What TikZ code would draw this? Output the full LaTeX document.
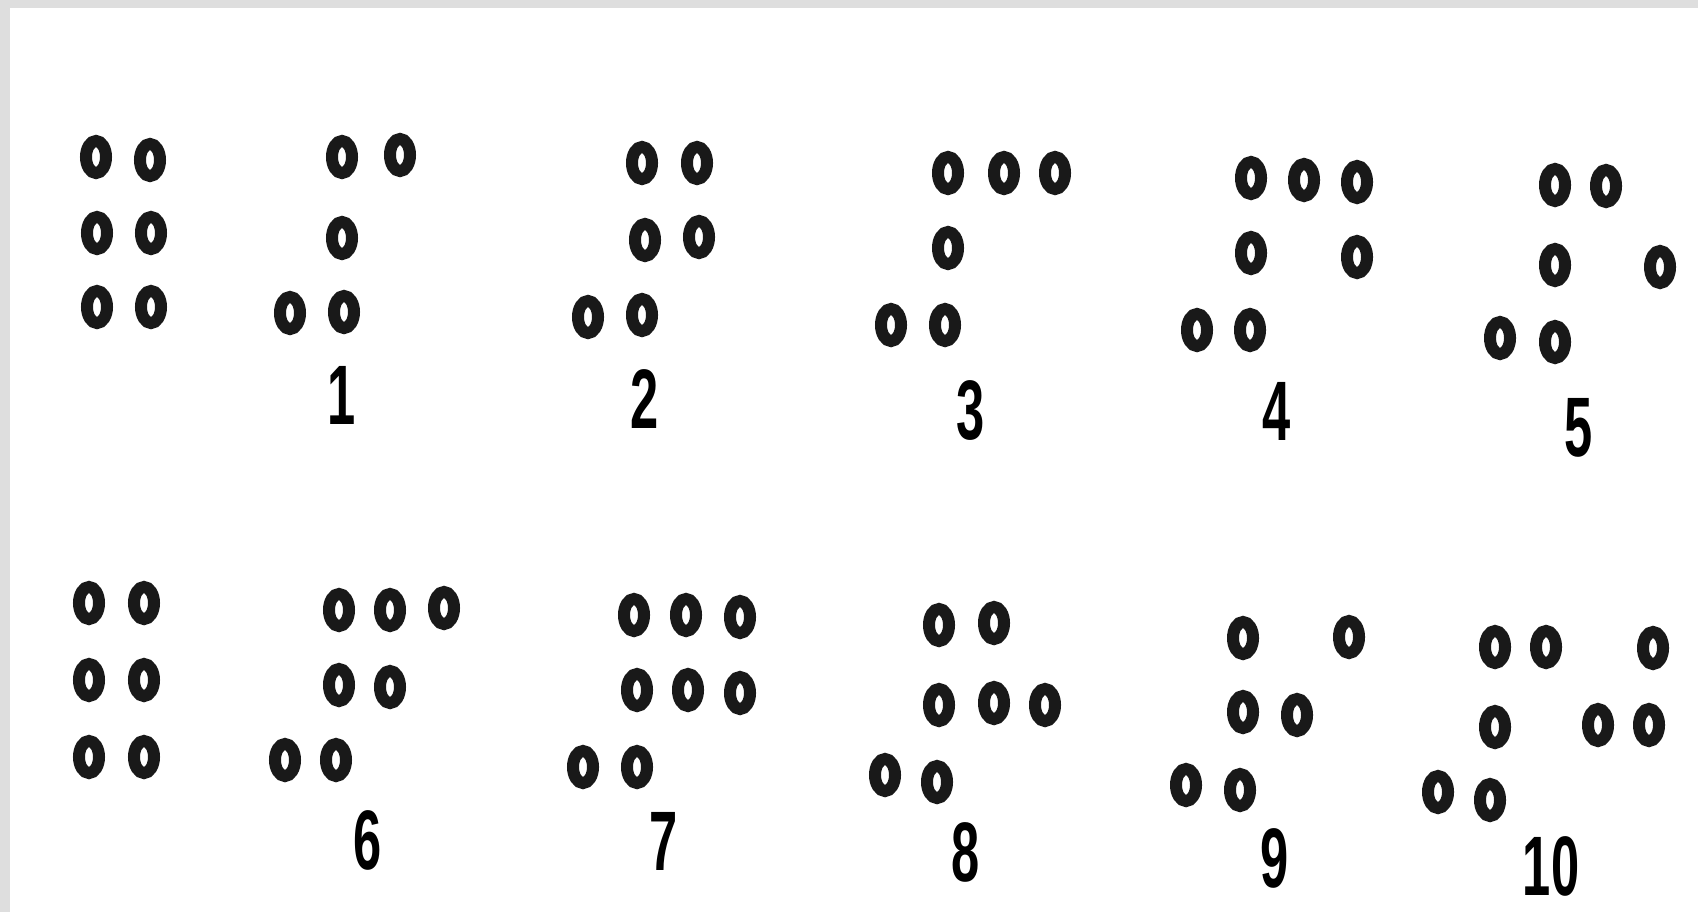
\documentclass[tikz,border=0pt]{standalone}
\usepackage{fontspec}
\newfontfamily\numfont[FakeStretch=0.6]{Liberation Sans}
\usetikzlibrary{shapes.geometric}

\begin{document}
\begin{tikzpicture}[x=0.01cm,y=-0.01cm,
  ring/.style={draw=black!90,line width=0.12cm,ellipse,inner sep=0pt,
    minimum width=0.2cm,minimum height=0.32cm},
  digit/.style={font=\numfont\bfseries\fontsize{24}{24}\selectfont,inner sep=0pt}]
  \useasboundingbox (0,0) rectangle (1698,912);
  % grey frame
  \fill[black!13] (0,0) rectangle (1698,8);
  \fill[black!13] (0,0) rectangle (10,912);

  % upper row
  \foreach \x/\y [count=\i] in {96/157,150/160,97/233,151/233,97/307,151/307}
    \node[ring] (a-\i) at (\x,\y) {};
  \foreach \x/\y [count=\i] in {342/157,400/155,342/238,290/313,344/312}
    \node[ring] (one-\i) at (\x,\y) {};
  \foreach \x/\y [count=\i] in {642/163,697/163,645/240,699/237,588/317,642/315}
    \node[ring] (two-\i) at (\x,\y) {};
  \foreach \x/\y [count=\i] in {948/173,1004/173,1055/173,948/248,891/325,945/325}
    \node[ring] (three-\i) at (\x,\y) {};
  \foreach \x/\y [count=\i] in {1251/178,1304/180,1357/182,1251/253,1357/257,1197/330,1250/330}
    \node[ring] (four-\i) at (\x,\y) {};
  \foreach \x/\y [count=\i] in {1555/185,1606/186,1555/265,1660/267,1500/338,1555/342}
    \node[ring] (five-\i) at (\x,\y) {};

  \node[digit] (lab1) at (342,395) {1};
  \node[digit] (lab2) at (645,399) {2};
  \node[digit] (lab3) at (971,410) {3};
  \node[digit] (lab4) at (1277,411) {4};
  \node[digit] (lab5) at (1579,428) {5};

  % lower row
  \foreach \x/\y [count=\i] in {89/603,144/603,89/680,144/680,89/757,144/757}
    \node[ring] (b-\i) at (\x,\y) {};
  \foreach \x/\y [count=\i] in {339/610,390/610,444/608,339/685,390/687,285/760,336/760}
    \node[ring] (six-\i) at (\x,\y) {};
  \foreach \x/\y [count=\i] in {634/615,686/615,740/617,637/690,688/690,740/693,583/767,637/767}
    \node[ring] (seven-\i) at (\x,\y) {};
  \foreach \x/\y [count=\i] in {939/625,994/623,939/705,994/703,1045/705,885/775,937/782}
    \node[ring] (eight-\i) at (\x,\y) {};
  \foreach \x/\y [count=\i] in {1243/638,1349/637,1243/712,1297/715,1186/785,1240/790}
    \node[ring] (nine-\i) at (\x,\y) {};
  \foreach \x/\y [count=\i] in {1495/647,1546/647,1653/648,1495/727,1598/725,1649/725,1438/792,1490/800}
    \node[ring] (ten-\i) at (\x,\y) {};

  \node[digit] (lab6) at (368,840) {6};
  \node[digit] (lab7) at (664,841) {7};
  \node[digit] (lab8) at (966,852) {8};
  \node[digit] (lab9) at (1275,858) {9};
  \node[digit] (lab10) at (1551,866) {10};
\end{tikzpicture}
\end{document}
